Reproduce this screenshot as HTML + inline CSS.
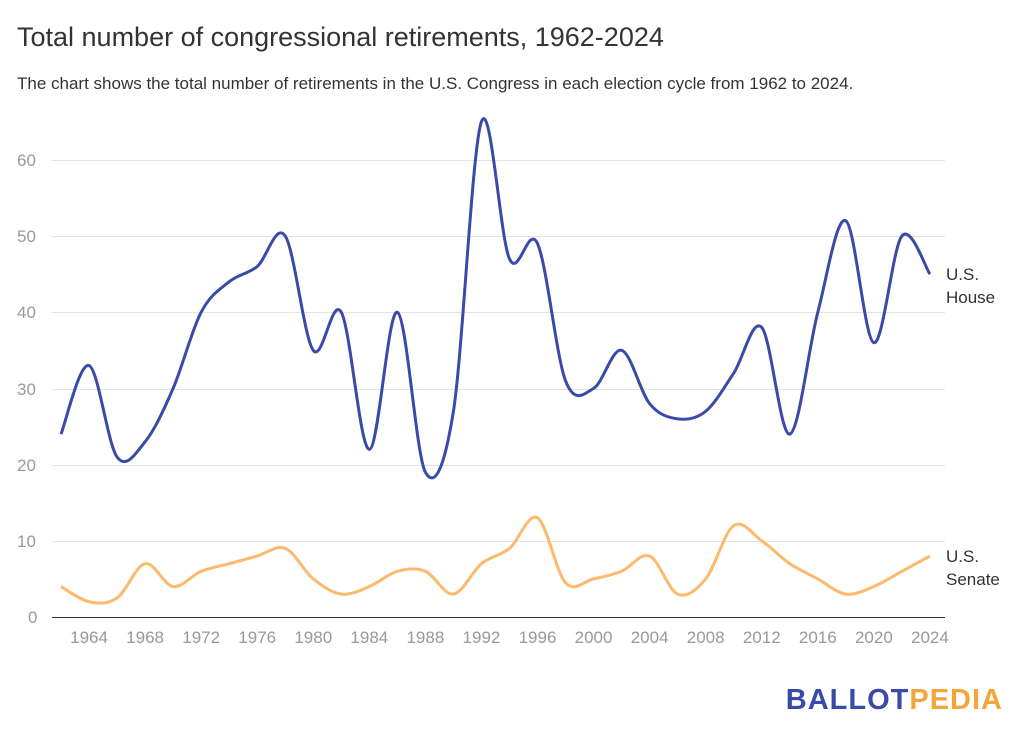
<!DOCTYPE html>
<html><head><meta charset="utf-8"><style>
body{margin:0;background:#fff;width:1024px;height:730px;overflow:hidden;font-family:"Liberation Sans",sans-serif;}
</style></head><body>
<svg width="1024" height="730" viewBox="0 0 1024 730" xmlns="http://www.w3.org/2000/svg" font-family="Liberation Sans, sans-serif">
<text x="17" y="46" font-size="27" fill="#333">Total number of congressional retirements, 1962-2024</text>
<text x="17" y="89" font-size="17" fill="#333">The chart shows the total number of retirements in the U.S. Congress in each election cycle from 1962 to 2024.</text>
<g stroke="#e3e3e3" stroke-width="1">
<line x1="52" x2="945" y1="160.5" y2="160.5"/><line x1="52" x2="945" y1="236.5" y2="236.5"/>
<line x1="52" x2="945" y1="312.5" y2="312.5"/><line x1="52" x2="945" y1="389.5" y2="389.5"/>
<line x1="52" x2="945" y1="465.5" y2="465.5"/><line x1="52" x2="945" y1="541.5" y2="541.5"/>
</g>
<line x1="52" x2="945" y1="617.5" y2="617.5" stroke="#333" stroke-width="1"/>
<g font-size="17" fill="#999">
<text x="17" y="166">60</text><text x="17" y="242">50</text><text x="17" y="318">40</text>
<text x="17" y="395">30</text><text x="17" y="471">20</text><text x="17" y="547">10</text><text x="28" y="623">0</text>
</g>
<g id="xt" font-size="17" fill="#999" text-anchor="middle"></g>
<path id="h" fill="none" stroke="#3a4aa8" stroke-width="3"/>
<path id="s" fill="none" stroke="#fdb96c" stroke-width="3"/>
<text x="946" y="280" font-size="17" fill="#333">U.S.</text>
<text x="946" y="303" font-size="17" fill="#333">House</text>
<text x="946" y="562" font-size="17" fill="#333">U.S.</text>
<text x="946" y="585" font-size="17" fill="#333">Senate</text>
<text x="1003" y="709" font-size="29" font-weight="bold" text-anchor="end" letter-spacing="1"><tspan fill="#3a4aa8">BALLOT</tspan><tspan fill="#f3a53a">PEDIA</tspan></text>
</svg>
<script>
var X=function(y){return 61+(y-1962)*14.015;},Y=function(v){return 617-v*7.62;};
var H=[24,33,21,23,30,40,44,46,50,35,40,22,40,19,27,65,47,49,31,30,35,28,26,27,32,38,24,40,52,36,50,45];
var S=[4,2,2.5,7,4,6,7,8,9,5,3,4,6,6,3,7,9,13,4.5,5,6,8,3,5,12,10,7,5,3,4,6,8];
function path(d){var p=d.map(function(v,i){return [X(1962+2*i),Y(v)];});var s="M"+p[0][0]+","+p[0][1];
for(var i=0;i<p.length-1;i++){var p0=p[i-1]||p[i],p1=p[i],p2=p[i+1],p3=p[i+2]||p2;
s+=" C"+(p1[0]+(p2[0]-p0[0])/6)+","+(p1[1]+(p2[1]-p0[1])/6)+" "+(p2[0]-(p3[0]-p1[0])/6)+","+(p2[1]-(p3[1]-p1[1])/6)+" "+p2[0]+","+p2[1];}return s;}
document.getElementById("h").setAttribute("d",path(H));
document.getElementById("s").setAttribute("d",path(S));
var g=document.getElementById("xt"),h="";
for(var y=1964;y<=2024;y+=4){h+='<text x="'+X(y)+'" y="643">'+y+'</text>';}
g.innerHTML=h;
</script>
</body></html>
